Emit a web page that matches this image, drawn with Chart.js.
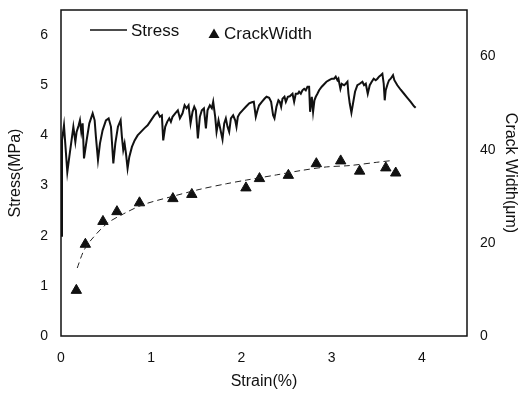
<!DOCTYPE html>
<html>
<head>
<meta charset="utf-8">
<script src="https://cdn.jsdelivr.net/npm/chart.js@4/dist/chart.umd.min.js"></script>
<style>
  html, body { margin: 0; padding: 0; background: #fff; }
  #wrap { width: 524px; height: 393px; }
</style>
</head>
<body>
<div id="wrap"><canvas id="chart" width="524" height="393"></canvas></div>
<script>
// stress-strain curve
const stressStrain = [
  0, 0.011, 0.033, 0.070, 0.092, 0.122, 0.137, 0.159, 0.173, 0.196, 0.210, 0.225, 0.240, 0.255,
  0.284, 0.314, 0.351, 0.373, 0.387, 0.410, 0.432, 0.461, 0.498, 0.528, 0.554, 0.580, 0.602,
  0.631, 0.661, 0.675, 0.690, 0.705, 0.720, 0.738, 0.757, 0.786, 0.816, 0.849, 0.886, 0.923,
  0.960, 0.997, 1.034, 1.070, 1.096, 1.118, 1.133, 1.155, 1.177, 1.200, 1.218, 1.236, 1.266,
  1.295, 1.318, 1.347, 1.370, 1.392, 1.414, 1.436, 1.458, 1.477, 1.495, 1.517, 1.539, 1.561,
  1.584, 1.606, 1.624, 1.650, 1.672, 1.687, 1.709, 1.724, 1.746, 1.761, 1.790, 1.809, 1.827,
  1.846, 1.864, 1.883, 1.908, 1.931, 1.945, 1.960, 1.982, 2.012, 2.049, 2.086, 2.115, 2.137,
  2.159, 2.178, 2.196, 2.226, 2.255, 2.278, 2.307, 2.329, 2.351, 2.366, 2.388, 2.410, 2.425,
  2.440, 2.455, 2.477, 2.492, 2.514, 2.536, 2.566, 2.584, 2.602, 2.625, 2.639, 2.658, 2.676,
  2.695, 2.713, 2.732, 2.750, 2.761, 2.780, 2.794, 2.809, 2.824, 2.842, 2.861, 2.890, 2.916,
  2.942, 2.972, 3.001, 3.027, 3.045, 3.064, 3.075, 3.097, 3.112, 3.138, 3.156, 3.175, 3.186,
  3.200, 3.219, 3.237, 3.259, 3.285, 3.311, 3.341, 3.359, 3.378, 3.400, 3.422, 3.444, 3.466,
  3.488, 3.507, 3.525, 3.544, 3.562, 3.577, 3.588, 3.599, 3.621, 3.636, 3.654, 3.680, 3.695,
  3.728, 3.765, 3.802, 3.839, 3.876, 3.913, 3.931
]
const stressValues = [
  2.0, 3.90, 4.20, 3.27, 3.57, 3.97, 4.17, 3.87, 4.07, 4.20, 4.30, 4.07, 4.24, 3.54,
  3.90, 4.24, 4.44, 4.30, 3.97, 3.51, 3.84, 4.10, 4.30, 4.34, 4.17, 3.44, 3.84,
  4.17, 4.30, 3.97, 3.71, 3.84, 3.64, 3.34, 3.57, 3.77, 3.90, 4.00, 4.07, 4.14,
  4.20, 4.30, 4.40, 4.47, 4.37, 4.40, 3.90, 4.17, 4.27, 4.34, 4.27, 4.37, 4.44,
  4.50, 4.34, 4.44, 4.60, 4.54, 4.60, 4.24, 4.47, 4.57, 4.50, 3.94, 4.37, 4.50,
  4.54, 4.14, 4.50, 4.60, 4.54, 4.67, 4.37, 4.07, 4.30, 4.17, 3.92, 4.24, 4.34,
  4.17, 4.07, 4.34, 4.40, 4.30, 4.17, 4.37, 4.44, 4.50, 4.57, 4.64, 4.66, 4.67,
  4.37, 4.50, 4.60, 4.67, 4.73, 4.77, 4.75, 4.67, 4.40, 4.34, 4.57, 4.70, 4.67,
  4.57, 4.73, 4.77, 4.67, 4.77, 4.78, 4.83, 4.67, 4.83, 4.83, 4.87, 4.83, 4.90,
  4.93, 4.90, 4.97, 4.97, 4.47, 4.77, 4.47, 4.70, 4.77, 4.83, 4.90, 4.97, 5.02,
  5.07, 5.10, 5.13, 5.13, 5.17, 5.10, 5.13, 4.93, 5.03, 5.00, 5.03, 5.07, 4.83,
  4.64, 4.45, 4.64, 4.87, 5.00, 5.03, 5.07, 5.00, 5.03, 4.83, 5.00, 5.07, 5.13,
  5.10, 5.13, 5.17, 5.20, 5.23, 5.03, 4.70, 4.90, 5.03, 5.10, 5.13, 5.20, 5.10,
  5.00, 4.91, 4.83, 4.75, 4.67, 4.58, 4.55
]

// crack width measurements (triangles)
const crackStrain = [0.17, 0.27, 0.465, 0.62, 0.87, 1.24, 1.45, 2.05, 2.20, 2.52, 2.83, 3.10, 3.31, 3.60, 3.71]
const crackWidth = [9.8, 19.7, 24.6, 26.7, 28.6, 29.5, 30.4, 31.8, 33.8, 34.5, 37.0, 37.6, 35.4, 36.1, 35.0]

// dashed trend line through the crack widths
const trendStrain = [0.18, 0.247, 0.32, 0.506, 0.69, 0.91, 1.24, 1.54, 1.835, 2.06, 2.39, 2.65, 2.94, 3.20, 3.50, 3.68]
const trendWidth = [14.6, 18.1, 20.3, 24.1, 26.2, 28.2, 30.0, 31.5, 32.7, 33.5, 34.6, 35.5, 36.3, 36.6, 37.3, 37.7]

const xTicks = [0, 1, 2, 3, 4]
const stressTicks = [0, 1, 2, 3, 4, 5, 6]
const crackTicks = [0, 20, 40, 60]

const zip = (xs, ys) => xs.map((x, i) => ({ x: x, y: ys[i] }))
const setTicks = (list) => (scale) => { scale.ticks = list.map((v) => ({ value: v })) }

// fixed axis boxes, no extra label padding pushing the plot in
const fixWidth = (w) => (s) => { s.width = w; s.paddingTop = 0; s.paddingBottom = 0 }
const fixHeight = (h) => (s) => { s.height = h; s.paddingLeft = 0; s.paddingRight = 0 }

const FONT = '"Liberation Sans", Arial, sans-serif'
const INK = '#111'

// box round the plot area
const frame = {
  id: 'frame',
  afterDraw(chart) {
    const { ctx, chartArea: a } = chart
    ctx.save()
    ctx.strokeStyle = INK
    ctx.lineWidth = 1.5
    ctx.strokeRect(a.left, a.top, a.right - a.left, a.bottom - a.top)
    ctx.restore()
  },
}

// legend sits inside the plot, top left
const innerLegend = {
  id: 'innerLegend',
  afterDraw(chart) {
    const ctx = chart.ctx
    ctx.save()
    ctx.fillStyle = INK
    ctx.strokeStyle = INK
    ctx.lineWidth = 1.5
    ctx.beginPath()
    ctx.moveTo(90, 30)
    ctx.lineTo(127, 30)
    ctx.stroke()
    ctx.font = '17px ' + FONT
    ctx.textBaseline = 'middle'
    ctx.fillText('Stress', 131, 31)
    ctx.beginPath()
    ctx.moveTo(214, 28.5)
    ctx.lineTo(219.5, 38)
    ctx.lineTo(208.5, 38)
    ctx.closePath()
    ctx.fill()
    ctx.fillText('CrackWidth', 224, 34)
    ctx.restore()
  },
}

new Chart(document.getElementById('chart'), {
  type: 'scatter',
  data: {
    datasets: [
      {
        label: 'Stress',
        data: zip(stressStrain, stressValues),
        yAxisID: 'y',
        showLine: true,
        borderColor: INK,
        borderWidth: 2,
        pointRadius: 0,
        tension: 0,
      },
      {
        label: 'Trend',
        data: zip(trendStrain, trendWidth),
        yAxisID: 'y2',
        showLine: true,
        borderColor: '#222',
        borderWidth: 1,
        borderDash: [6, 4],
        pointRadius: 0,
        tension: 0.3,
      },
      {
        label: 'CrackWidth',
        data: zip(crackStrain, crackWidth),
        yAxisID: 'y2',
        pointStyle: 'triangle',
        pointRadius: 6,
        pointBorderWidth: 1,
        backgroundColor: INK,
        borderColor: INK,
      },
    ],
  },
  options: {
    responsive: false,
    animation: false,
    devicePixelRatio: 1,
    layout: { padding: { top: 10, left: 0, right: 0, bottom: 0 } },
    plugins: {
      legend: { display: false },
      tooltip: { enabled: false },
    },
    scales: {
      x: {
        type: 'linear',
        position: 'bottom',
        min: 0,
        max: 4.5,
        afterBuildTicks: setTicks(xTicks),
        afterFit: fixHeight(57),
        grid: { display: false, drawTicks: false },
        border: { display: false },
        ticks: { color: INK, font: { family: FONT, size: 14 }, padding: 14 },
        title: {
          display: true,
          text: 'Strain(%)',
          color: INK,
          font: { family: FONT, size: 16 },
          padding: { top: 0, bottom: 2 },
        },
      },
      y: {
        type: 'linear',
        position: 'left',
        min: 0,
        max: 6.5,
        afterBuildTicks: setTicks(stressTicks),
        afterFit: fixWidth(61),
        grid: { display: false, drawTicks: false },
        border: { display: false },
        ticks: { color: INK, font: { family: FONT, size: 14 }, padding: 13 },
        title: {
          display: true,
          text: 'Stress(MPa)',
          color: INK,
          font: { family: FONT, size: 16 },
          padding: { top: 6, bottom: 0 },
        },
      },
      y2: {
        type: 'linear',
        position: 'right',
        min: 0,
        max: 70,
        afterBuildTicks: setTicks(crackTicks),
        afterFit: fixWidth(57),
        grid: { display: false, drawTicks: false },
        border: { display: false },
        ticks: { color: INK, font: { family: FONT, size: 14 }, padding: 13 },
        title: {
          display: true,
          text: 'Crack Width(μm)',
          color: INK,
          font: { family: FONT, size: 16 },
          padding: { top: 4, bottom: 0 },
        },
      },
    },
  },
  plugins: [frame, innerLegend],
})
</script>
</body>
</html>
